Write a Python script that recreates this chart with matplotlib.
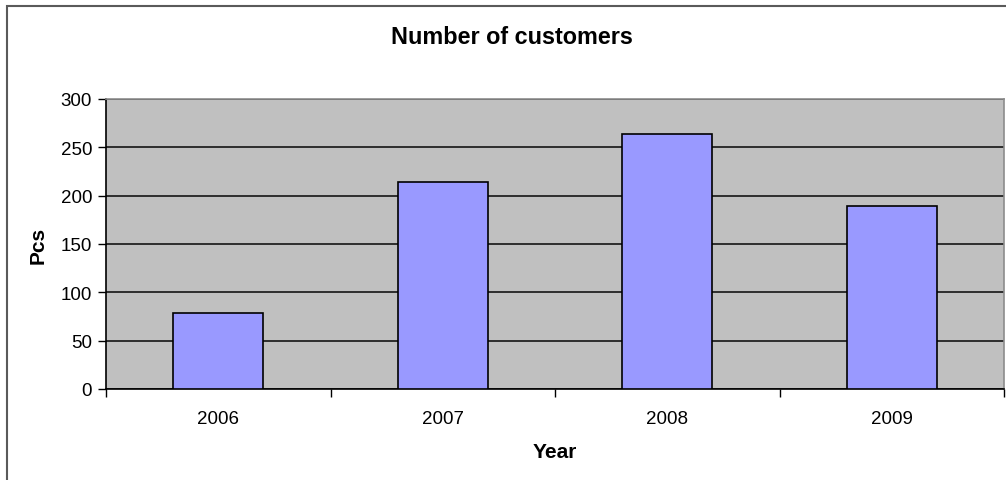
import matplotlib.pyplot as plt
from matplotlib.patches import Rectangle

# data
years = ['2006', '2007', '2008', '2009']
customers = [79, 214, 264, 189]

plt.rcParams['font.family'] = ['Liberation Sans', 'DejaVu Sans']

W, H = 1006, 481
fig = plt.figure(figsize=(W / 100, H / 100), dpi=100)

# plot area in pixel coordinates
left, right, top, bottom = 106, 1004, 100, 390
ax = fig.add_axes([left / W, 1 - bottom / H, (right - left) / W, (bottom - top) / H])

# outer chart border (gray), runs off the right and bottom edges
fig.patches.append(Rectangle((7 / W, -0.1), 1.2, 1 - 7 / H + 0.1, transform=fig.transFigure,
                             fill=False, edgecolor='#5a5a5a', linewidth=1.5, clip_on=False))

x = range(len(years))
ax.set_facecolor('#C0C0C0')
ax.bar(x, customers, width=0.4, color='#9999FF', edgecolor='black', linewidth=1.2, zorder=3)

ax.set_xlim(-0.5, len(years) - 0.5)
ax.set_ylim(0, 300)
ax.set_yticks(range(0, 301, 50))
ax.yaxis.grid(True, color='#222222', linewidth=1.3, zorder=1)
ax.set_axisbelow(True)

# category ticks between bars, labels at bar centres
ax.set_xticks([i - 0.5 for i in range(len(years) + 1)])
ax.set_xticklabels([])
ax.set_xticks(list(x), minor=True)
ax.set_xticklabels(years, minor=True)
ax.tick_params(axis='x', which='major', length=6, width=1, direction='out', color='black')
ax.tick_params(axis='x', which='minor', length=0, pad=15, labelsize=13.5)
ax.tick_params(axis='y', length=6, width=1, direction='out', pad=4, labelsize=13.5)

for side in ['top', 'right']:
    ax.spines[side].set_color('#8c8c8c')
    ax.spines[side].set_linewidth(1.2)
for side in ['left', 'bottom']:
    ax.spines[side].set_color('black')
    ax.spines[side].set_linewidth(1.2)

fig.text(512 / W, 1 - 38 / H, 'Number of customers', ha='center', va='center',
         fontsize=16.8, fontweight='bold')
fig.text(555 / W, 1 - 452 / H, 'Year', ha='center', va='center', fontsize=15, fontweight='bold')
fig.text(38 / W, 1 - 245 / H, 'Pcs', ha='center', va='center', rotation=90,
         fontsize=15, fontweight='bold')

plt.savefig('out.png', dpi=100)
